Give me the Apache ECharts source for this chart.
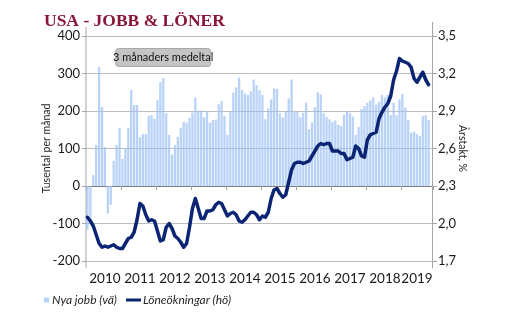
<!DOCTYPE html>
<html><head><meta charset="utf-8">
<script src="https://cdn.jsdelivr.net/npm/echarts@6/dist/echarts.min.js"></script>
<style>html,body{margin:0;padding:0;background:#fff}#c{width:514px;height:333px}</style>
</head><body><div id="c"></div>
<script>
// Monthly categories Jan 2010 .. Nov 2019 (last slot empty)
const months = [];
for (let y = 2010; y <= 2019; y++) for (let m = 1; m <= 12; m++) { if (y === 2019 && m > 11) break; months.push(y + '-' + String(m).padStart(2, '0')); }

// Nya jobb, 3 månaders medeltal (tusental)
const jobs2010 = [-117, -90, 29, 109, 317, 211, 104, -73, -50, 67, 109, 155];
const jobs2011 = [72, 100, 155, 256, 216, 216, 130, 139, 139, 187, 189, 179];
const jobs2012 = [229, 277, 288, 194, 136, 84, 109, 131, 155, 171, 169, 182];
const jobs2013 = [196, 236, 201, 201, 183, 200, 169, 176, 177, 218, 227, 187];
const jobs2014 = [136, 198, 249, 263, 289, 256, 247, 243, 252, 284, 269, 256];
const jobs2015 = [243, 178, 207, 231, 260, 259, 194, 183, 198, 234, 284, 198];
const jobs2016 = [198, 183, 195, 222, 151, 170, 210, 250, 244, 194, 184, 178];
const jobs2017 = [171, 175, 163, 160, 190, 200, 195, 185, 136, 157, 205, 213];
const jobs2018 = [222, 228, 236, 217, 225, 243, 236, 243, 189, 222, 189, 231];
const jobs2019 = [245, 209, 176, 142, 145, 138, 133, 187, 189, 176, null];

// Löneökningar, årstakt %
const wage2010 = [2.05, 2.02, 1.98, 1.91, 1.84, 1.81, 1.82, 1.81, 1.82, 1.83, 1.81, 1.80];
const wage2011 = [1.80, 1.84, 1.88, 1.89, 1.93, 2.03, 2.16, 2.14, 2.07, 2.02, 2.03, 2.02];
const wage2012 = [1.94, 1.86, 1.87, 1.97, 2.00, 1.96, 1.90, 1.88, 1.85, 1.81, 1.84, 1.97];
const wage2013 = [2.12, 2.20, 2.12, 2.04, 2.04, 2.10, 2.10, 2.11, 2.15, 2.17, 2.16, 2.11];
const wage2014 = [2.06, 2.08, 2.09, 2.07, 2.02, 2.01, 2.03, 2.06, 2.09, 2.09, 2.07, 2.03];
const wage2015 = [2.06, 2.05, 2.09, 2.20, 2.27, 2.28, 2.24, 2.21, 2.23, 2.33, 2.43, 2.48];
const wage2016 = [2.49, 2.49, 2.48, 2.49, 2.50, 2.54, 2.58, 2.62, 2.64, 2.63, 2.64, 2.64];
const wage2017 = [2.58, 2.58, 2.58, 2.56, 2.56, 2.51, 2.52, 2.53, 2.62, 2.60, 2.54, 2.53];
const wage2018 = [2.67, 2.71, 2.72, 2.73, 2.84, 2.89, 2.93, 2.96, 3.02, 3.15, 3.22, 3.32];
const wage2019 = [3.30, 3.29, 3.28, 3.25, 3.16, 3.13, 3.17, 3.21, 3.15, 3.11, null];

const jobs = [].concat(jobs2010, jobs2011, jobs2012, jobs2013, jobs2014, jobs2015, jobs2016, jobs2017, jobs2018, jobs2019);
const wages = [].concat(wage2010, wage2011, wage2012, wage2013, wage2014, wage2015, wage2016, wage2017, wage2018, wage2019);

const leftTicks = [-200, -100, 0, 100, 200, 300, 400];
const rightTicks = [1.7, 2.0, 2.3, 2.6, 2.9, 3.2, 3.5];

const FONT = 'Lato';
const chart = echarts.init(document.getElementById('c'), null, {renderer: 'canvas'});
chart.setOption({
  animation: false,
  backgroundColor: '#fff',
  title: {
    text: 'USA - JOBB & LÖNER', left: 39, top: 7,
    textStyle: {fontFamily: 'Liberation Serif', fontWeight: 'bold', fontSize: 17.5, color: '#8a1538'}
  },
  legend: [
    {data: [{name: 'Nya jobb (vä)', icon: 'rect'}], left: 39, top: 289, itemWidth: 5, itemHeight: 5, itemGap: 0,
     textStyle: {fontFamily: FONT, fontStyle: 'italic', fontSize: 12, color: '#262626', padding: [0, 0, 0, -2]}},
    {data: [{name: 'Löneökningar (hö)', icon: 'rect'}], left: 121, top: 289, itemWidth: 15, itemHeight: 3,
     textStyle: {fontFamily: FONT, fontStyle: 'italic', fontSize: 12, color: '#262626', padding: [0, 0, 0, -3]}}
  ],
  grid: {left: 86, right: 81, top: 36, bottom: 72, containLabel: false},
  xAxis: {
    type: 'category', data: months, boundaryGap: true, offset: 5,
    axisLine: {show: false},
    axisTick: {show: true, length: 4, interval: (i) => i % 12 === 0, lineStyle: {color: '#a6a6a6'}},
    axisLabel: {
      interval: (i) => (i % 12 === 6 && i < 108) || i === 113,
      formatter: (v) => v.slice(0, 4), margin: 6,
      fontFamily: FONT, fontSize: 13.5, color: '#1a1a1a'
    },
    splitLine: {show: false}
  },
  yAxis: [
    {
      type: 'value', min: leftTicks[0], max: leftTicks[leftTicks.length - 1], interval: 100,
      name: 'Tusental per månad', nameLocation: 'middle', nameGap: 34, nameMoveOverlap: false,
      nameTextStyle: {fontFamily: FONT, fontSize: 10.5, color: '#262626'},
      axisLine: {show: false},
      axisTick: {show: true, length: 4, lineStyle: {color: '#a6a6a6'}},
      axisLabel: {fontFamily: FONT, fontSize: 13, color: '#1a1a1a', margin: 6},
      splitLine: {show: true, lineStyle: {width: 1, color: ['#bdbdbd', '#bdbdbd', '#7f7f7f', '#bdbdbd', '#bdbdbd', '#bdbdbd', '#bdbdbd']}}
    },
    {
      type: 'value', min: rightTicks[0], max: rightTicks[rightTicks.length - 1], interval: 0.3, position: 'right',
      name: 'Årstakt, %', nameLocation: 'middle', nameGap: 24, nameRotate: -90, nameMoveOverlap: false,
      nameTextStyle: {fontFamily: FONT, fontSize: 10.5, color: '#262626'},
      axisLine: {show: false},
      axisTick: {show: true, length: 4, lineStyle: {color: '#a6a6a6'}},
      axisLabel: {fontFamily: FONT, fontSize: 13, color: '#1a1a1a', margin: 5,
        formatter: (v) => v.toFixed(1).replace('.', ',')},
      splitLine: {show: false}
    }
  ],
  series: [
    {
      name: 'Nya jobb (vä)', type: 'bar', yAxisIndex: 0, data: jobs, barCategoryGap: '22%',
      itemStyle: {color: 'rgba(160,195,245,0.75)'}, z: 2
    },
    {
      name: 'Löneökningar (hö)', type: 'line', yAxisIndex: 1, data: wages, showSymbol: false, symbol: 'none',
      lineStyle: {color: '#0b2574', width: 3.5, join: 'round', cap: 'round'}, itemStyle: {color: '#0b2574'}, z: 3
    }
  ],
  graphic: [
    {type: 'line', shape: {x1: 86, y1: 27, x2: 86, y2: 268}, style: {stroke: '#a6a6a6', lineWidth: 1}, z: 1},
    {type: 'line', shape: {x1: 432.5, y1: 22, x2: 432.5, y2: 268}, style: {stroke: '#a6a6a6', lineWidth: 1}, z: 1},
    {type: 'group', left: 113, top: 48, z: 10, children: [
      {type: 'rect', shape: {x: 0, y: 0, width: 95, height: 18, r: 3}, style: {fill: '#c4c4c4', stroke: '#a8a8a8', lineWidth: 1}},
      {type: 'text', x: 47.5, y: 9, style: {text: '3 månaders medeltal', fontFamily: FONT, fontSize: 11, fill: '#111', align: 'center', verticalAlign: 'middle'}}
    ]}
  ]
});
</script></body></html>
